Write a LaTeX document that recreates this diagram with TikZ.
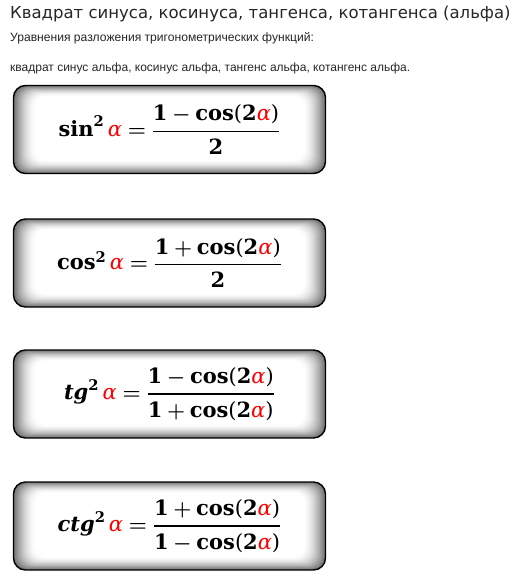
\documentclass[tikz,border=0pt]{standalone}
\usepackage{amsmath}
\usepackage{xcolor}
\usepackage{fontspec}
\newfontfamily\capfont{DejaVu Sans}
\newfontfamily\notefont{Liberation Sans}
\newfontfamily\heavyfont{DejaVu Serif}
\usepackage{tikz}

\newcommand\hv[1]{\text{\heavyfont\bfseries #1}}
\newcommand\hvit[1]{\text{\heavyfont\bfseries\itshape #1}}
\newcommand\ra{\text{\heavyfont\itshape\color{red}α}}
\newcommand\eq{\mathrel{\boldsymbol{=}}}
\newcommand\mi{\mathbin{\boldsymbol{-}}}
\newcommand\pl{\mathbin{\boldsymbol{+}}}
\newcommand\cosa{\hv{cos}\text{\heavyfont(}\hv{2}\ra\text{\heavyfont)}}
\newcommand\fr[2]{\genfrac{}{}{1.2pt}{0}{\rule[-6.5pt]{0pt}{0pt}#1}{\rule{0pt}{19pt}#2}}

\tikzset{
  formula/.style={draw,line width=1.4pt,rounded corners=12pt,minimum width=312pt,minimum height=88pt,inner sep=0pt,font={\fontsize{21}{25}\selectfont}},
  caption/.style={anchor=base west,inner sep=0pt,text=black!85}
}

\begin{document}
\begin{tikzpicture}[x=1pt,y=-1pt]
\useasboundingbox (0,0) rectangle (517,582);

% headings
\node[caption,font=\capfont\fontsize{16.5}{19}\selectfont] (title) at (10,18.3) {Квадрат синуса, косинуса, тангенса, котангенса (альфа)};
\node[caption,font=\notefont\fontsize{12.1}{14}\selectfont] (intro) at (10,41.7) {Уравнения разложения тригонометрических функций:};
\node[caption,font=\notefont\fontsize{12}{14}\selectfont] (list) at (10,71.7) {квадрат синус альфа, косинус альфа, тангенс альфа, котангенс альфа.};

% inner shadow of the boxes
\foreach \yt in {85.5,219,350,482}{
  \foreach \k in {0,...,15}{
    \pgfmathsetmacro\shade{55*(1-\k/15)^1.6}
    \fill[black!\shade!white,rounded corners=12pt] (13.5+1.4*\k,\yt+0.7*\k) rectangle (325.5-1.4*\k,\yt+88-0.85*\k);
  }
}

% formulas
\node[formula] (sinsq) at (169.5,129.5) {$\mathop{\hv{sin}}\nolimits^{\hv{2}}\ra\eq\fr{\hv{1}\mi\cosa}{\hv{2}}$};
\node[formula] (cossq) at (169.5,263) {$\mathop{\hv{cos}}\nolimits^{\hv{2}}\ra\eq\fr{\hv{1}\pl\cosa}{\hv{2}}$};
\node[formula] (tgsq) at (169.5,394) {$\mathop{\hvit{tg}}\nolimits^{\hv{2}}\ra\eq\fr{\hv{1}\mi\cosa}{\hv{1}\pl\cosa}$};
\node[formula] (ctgsq) at (169.5,526) {$\mathop{\hvit{ctg}}\nolimits^{\hv{2}}\ra\eq\fr{\hv{1}\pl\cosa}{\hv{1}\mi\cosa}$};
\end{tikzpicture}
\end{document}
